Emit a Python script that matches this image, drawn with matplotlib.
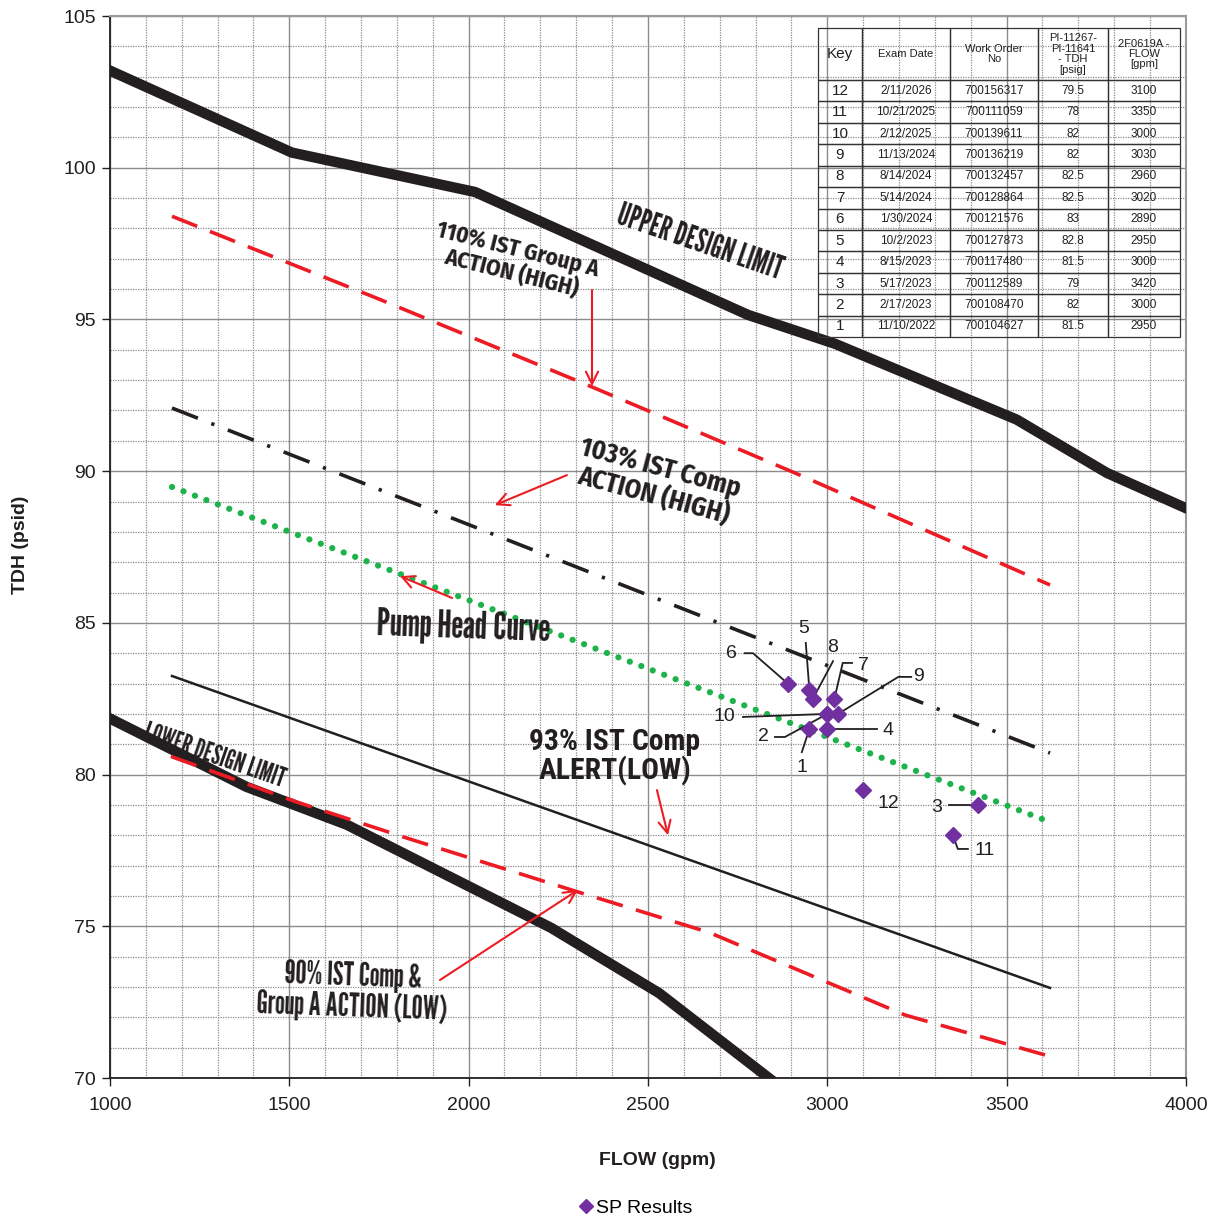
import numpy as np
import matplotlib.pyplot as plt
from matplotlib.lines import Line2D
from matplotlib.ticker import MultipleLocator

plt.rcParams['font.family'] = ['Liberation Sans', 'DejaVu Sans']

# SP results (table rows, newest first)
keys = [12, 11, 10, 9, 8, 7, 6, 5, 4, 3, 2, 1]
exam_dates = ['2/11/2026', '10/21/2025', '2/12/2025', '11/13/2024', '8/14/2024', '5/14/2024',
              '1/30/2024', '10/2/2023', '8/15/2023', '5/17/2023', '2/17/2023', '11/10/2022']
work_orders = ['700156317', '700111059', '700139611', '700136219', '700132457', '700128864',
               '700121576', '700127873', '700117480', '700112589', '700108470', '700104627']
tdh = [79.5, 78, 82, 82, 82.5, 82.5, 83, 82.8, 81.5, 79, 82, 81.5]
flow = [3100, 3350, 3000, 3030, 2960, 3020, 2890, 2950, 3000, 3420, 3000, 2950]
headers = ['Key', 'Exam Date', 'Work Order\nNo', 'PI-11267-\nPI-11641\n- TDH\n[psig]',
           '2F0619A -\nFLOW\n[gpm]']

# reference curves
upper_flow = [1000, 1507, 2018, 2779, 3021, 3528, 3780, 4000]
upper_tdh = [103.2, 100.5, 99.2, 95.15, 94.2, 91.7, 89.94, 88.78]
lower_flow = [1000, 1380, 1660, 2230, 2531, 2870]
lower_tdh = [81.85, 79.6, 78.35, 74.95, 72.8, 69.7]
high110_flow = [1173, 1744, 2319, 2924, 3621]
high110_tdh = [98.4, 95.7, 92.9, 89.87, 86.25]
high103_flow = [1173, 3621]
high103_tdh = [92.08, 80.71]
pump_flow = [1173, 3607]
pump_tdh = [89.48, 78.5]
alert93_flow = [1173, 3621]
alert93_tdh = [83.25, 72.97]
low90_flow = [1170, 1520, 1830, 2300, 2670, 3216, 3607]
low90_tdh = [80.6, 79.1, 77.9, 76.15, 74.8, 72.08, 70.76]

fig = plt.figure(figsize=(12.15, 12.22), dpi=100)
ax = fig.add_axes([0.0905, 0.1178, 0.8856, 0.8691])
renderer = fig.canvas.get_renderer()

ax.plot(upper_flow, upper_tdh, color='#231f20', lw=7.5, solid_joinstyle='round', zorder=3)
ax.plot(lower_flow, lower_tdh, color='#231f20', lw=7.5, solid_joinstyle='round', zorder=3)
ax.plot(high110_flow, high110_tdh, color='#ed1c24', lw=2.6, dashes=(7.5, 3.8), zorder=3)
ax.plot(low90_flow, low90_tdh, color='#ed1c24', lw=2.6, dashes=(7.5, 3.8), zorder=4)
ax.plot(high103_flow, high103_tdh, color='#231f20', lw=2.6, dashes=(7.7, 4, 0.9, 4), zorder=3)
ax.plot(pump_flow, pump_tdh, color='#1db34a', lw=4.5, dashes=(0.01, 1.95),
        dash_capstyle='round', zorder=3)
ax.plot(alert93_flow, alert93_tdh, color='#231f20', lw=1.8, zorder=3)

ax.plot(flow, tdh, 'D', color='#7030a0', ms=8, zorder=6, clip_on=False)

# point labels with leader lines
leaders = {
    6: ((2734, 84.0), [(2770, 84.0), (2793, 84.0)]),
    5: ((2935, 84.8), [(2940, 84.34)]),
    8: ((3016, 84.2), [(3016, 83.74)]),
    7: ((3100, 83.6), [(3069, 83.68), (3043, 83.68)]),
    9: ((3255, 83.22), [(3234, 83.22), (3198, 83.22)]),
    10: ((2712, 81.9), [(2765, 81.9)]),
    2: ((2821, 81.24), [(2854, 81.24), (2882, 81.24)]),
    4: ((3169, 81.47), [(3138, 81.5)]),
    1: ((2929, 80.25), [(2929, 80.74)]),
    12: ((3169, 79.06), []),
    3: ((3306, 78.93), [(3339, 79.0)]),
    11: ((3440, 77.5), [(3392, 77.55), (3364, 77.55)]),
}
for k, x, y in zip(keys, flow, tdh):
    (tx, ty), path = leaders[k]
    ax.text(tx, ty, str(k), fontsize=14, color='#231f20', ha='center', va='center', zorder=7)
    if path:
        px = [p[0] for p in path] + [x]
        py = [p[1] for p in path] + [y]
        ax.plot(px, py, color='#231f20', lw=1.3, zorder=5)


def fit_text(x, y, s, width_px, rot, family, **kw):
    # draw the label, then scale its font so the widest line spans width_px
    t = ax.text(x, y, s, family=family, fontweight='bold', fontsize=12, rotation=0,
                ha='center', va='center', color='#231f20', zorder=7, linespacing=1.0, **kw)
    w = t.get_window_extent(renderer).width
    t.set_fontsize(12 * width_px / w)
    t.set_rotation(rot)
    return t


narrow = ['Roboto Condensed', 'Archivo Narrow', 'PT Sans Narrow', 'Oswald', 'DejaVu Sans']
tall = ['League Gothic', 'Antonio', 'Oswald', 'Pathway Gothic One', 'Roboto Condensed',
        'DejaVu Sans']
semi = ['Fira Sans Condensed', 'IBM Plex Sans Condensed', 'Asap Condensed',
        'Encode Sans Semi Condensed', 'Roboto Condensed', 'DejaVu Sans']

# curve annotations
fit_text(2645, 97.52, 'UPPER DESIGN LIMIT', 172, -19, tall)
fit_text(1290, 80.6, 'LOWER DESIGN LIMIT', 148, -19, tall)
fit_text(2129, 96.9, '110% IST Group A\nACTION (HIGH)', 166, -14, semi)
fit_text(2525, 89.64, '103% IST Comp\nACTION (HIGH)', 165, -15, semi)
fit_text(1984, 84.86, 'Pump Head Curve', 172, -2, tall)
fit_text(2408, 80.58, '93% IST Comp\nALERT(LOW)', 170, 0, narrow)
fit_text(1675, 72.83, '90% IST Comp &\nGroup A ACTION (LOW)', 190, -2, tall)

arrows = [((2344, 95.97), (2344, 92.8)),
          ((2274, 89.87), (2073, 88.88)),
          ((1954, 85.82), (1809, 86.54)),
          ((2525, 79.49), (2556, 78.0)),
          ((1920, 73.23), (2305, 76.2))]
for tail, head in arrows:
    ax.annotate('', xy=head, xytext=tail, zorder=7,
                arrowprops=dict(arrowstyle='->', color='#ed1c24', lw=1.5,
                                mutation_scale=22, shrinkA=0, shrinkB=0))

# axes, grid
ax.set_xlim(1000, 4000)
ax.set_ylim(70, 105)
ax.xaxis.set_major_locator(MultipleLocator(500))
ax.yaxis.set_major_locator(MultipleLocator(5))
ax.xaxis.set_minor_locator(MultipleLocator(100))
ax.yaxis.set_minor_locator(MultipleLocator(1))
ax.grid(which='major', color='#8c8c8c', lw=1.0, zorder=0)
ax.grid(which='minor', color='#8c8c8c', lw=0.9, ls=(0, (1, 1)), zorder=0)
ax.set_axisbelow(True)
ax.tick_params(which='major', direction='out', length=6, width=1, labelsize=14,
               colors='#231f20', pad=6)
ax.tick_params(which='minor', length=0)
ax.tick_params(axis='x', pad=8)
ax.tick_params(axis='y', pad=4)
for s in ['top', 'right']:
    ax.spines[s].set_color('#9a9a9a')
    ax.spines[s].set_linewidth(1.5)
for s in ['left', 'bottom']:
    ax.spines[s].set_color('#231f20')
    ax.spines[s].set_linewidth(1.3)

fig.text(0.0165, 0.554, 'TDH (psid)', rotation=90, fontsize=14, fontweight='bold',
         ha='center', va='center', color='#231f20')
fig.text(0.541, 0.05, 'FLOW (gpm)', fontsize=14, fontweight='bold',
         ha='center', va='center', color='#231f20')
handle = Line2D([], [], ls='none', marker='D', color='#7030a0', ms=7)
fig.legend([handle], ['SP Results'], loc='center', bbox_to_anchor=(0.523, 0.0115),
           frameon=False, fontsize=14, handletextpad=0.1, handlelength=0.8)

# table of results
rows = [[str(k), d, w, f'{t:g}', str(f)]
        for k, d, w, t, f in zip(keys, exam_dates, work_orders, tdh, flow)]
col_w = [44, 88, 88, 70, 72]
tbl = ax.table(cellText=rows, colLabels=headers, colWidths=[c / sum(col_w) for c in col_w],
               cellLoc='center', bbox=[0.658, 0.6977, 0.3364, 0.291], zorder=8)
tbl.auto_set_font_size(False)
for (r, c), cell in tbl.get_celld().items():
    cell.set_facecolor('none')
    cell.set_edgecolor('#333333')
    cell.set_linewidth(0.9)
    cell.get_text().set_color('#231f20')
    if r == 0:
        cell.set_height(2.43)
        cell.get_text().set_fontsize(8 if c > 0 else 11)
        cell.get_text().set_linespacing(1.05)
    else:
        cell.set_height(1.0)
        cell.get_text().set_fontsize(11 if c == 0 else 8.5)

fig.savefig('out.png', dpi=100)
